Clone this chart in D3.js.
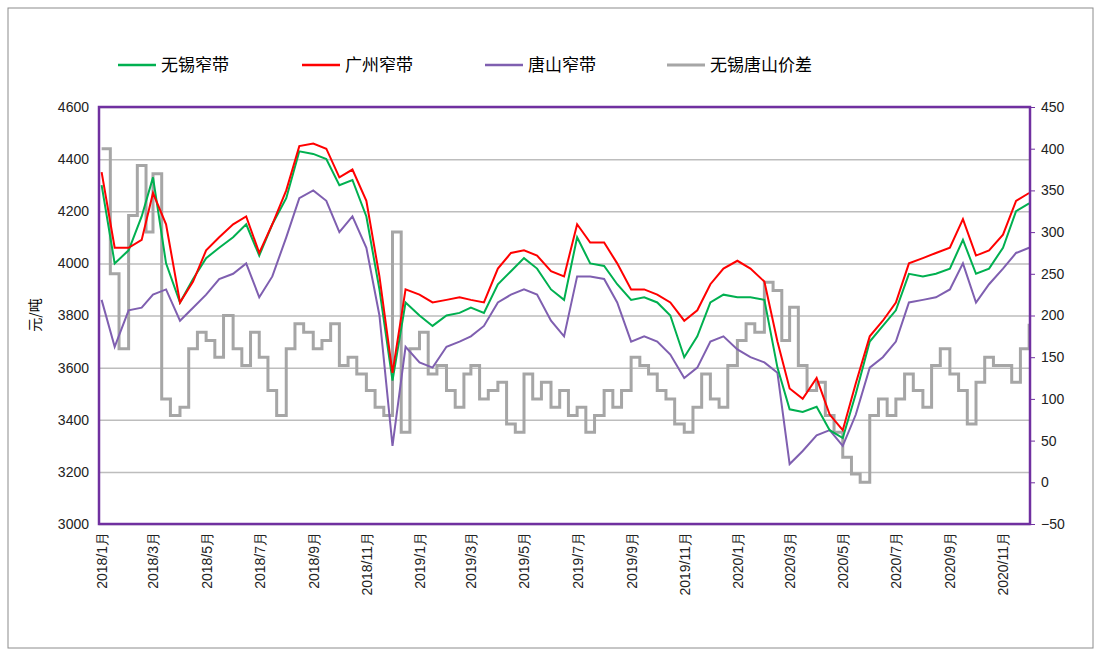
<!DOCTYPE html>
<html>
<head>
<meta charset="utf-8">
<script src="https://cdn.jsdelivr.net/npm/d3@7"></script>
<style>
  body { margin: 0; background: #fff; font-family: "Microsoft YaHei", "Noto Sans CJK SC", sans-serif; }
  .grid line { stroke: #bdbdbd; stroke-width: 1.5; }
  .axis text { font-size: 14px; fill: #222; }
</style>
</head>
<body>
<div id="chart"></div>
<script>
// Semi-monthly dates (1st and 16th) for the three price series
var monthKeys = [];
for (var y = 2018; y <= 2020; y++) for (var m = 1; m <= 12; m++) monthKeys.push([y, m]);
var halfDates = [];
monthKeys.forEach(function(k) { halfDates.push(new Date(k[0], k[1] - 1, 1)); halfDates.push(new Date(k[0], k[1] - 1, 16)); });
halfDates = halfDates.slice(0, 71);

var wuxi = [4300,4000,4050,4180,4330,4000,3850,3940,4020,4060,4100,4150,4030,4150,4250,4430,4420,4400,4300,4320,4180,3900,3550,3850,
  3800,3760,3800,3810,3830,3810,3920,3970,4020,3980,3900,3860,4100,4000,3990,3920,3860,3870,3850,3800,3640,3720,3850,3880,
  3870,3870,3860,3600,3440,3430,3450,3360,3330,3500,3700,3760,3820,3960,3950,3960,3980,4090,3960,3980,4060,4200,4230];
var guangzhou = [4350,4060,4060,4090,4270,4150,3850,3930,4050,4100,4150,4180,4040,4150,4280,4450,4460,4440,4330,4360,4240,3950,3580,3900,
  3880,3850,3860,3870,3860,3850,3980,4040,4050,4030,3970,3950,4150,4080,4080,4000,3900,3900,3880,3850,3780,3820,3920,3980,
  4010,3980,3930,3700,3520,3480,3560,3420,3360,3540,3720,3780,3850,4000,4020,4040,4060,4170,4030,4050,4110,4240,4270];
var tangshan = [3860,3680,3820,3830,3880,3900,3780,3830,3880,3940,3960,4000,3870,3950,4100,4250,4280,4240,4120,4180,4060,3800,3300,3680,
  3620,3600,3680,3700,3720,3760,3850,3880,3900,3880,3780,3720,3950,3950,3940,3850,3700,3720,3700,3650,3560,3600,3700,3720,
  3670,3640,3620,3580,3230,3280,3340,3360,3300,3420,3600,3640,3700,3850,3860,3870,3900,4000,3850,3920,3980,4040,4060];

// Spread series, three points per month (1st, 11th, 21st)
var spreadDates = [];
monthKeys.forEach(function(k) { [1, 11, 21].forEach(function(d) { spreadDates.push(new Date(k[0], k[1] - 1, d)); }); });
spreadDates = spreadDates.slice(0, 106);
var spread = [400,250,160, 320,380,300, 370,100,80, 90,160,180, 170,150,200, 160,140,180, 150,110,80, 160,190,180, 160,170,190, 140,150,130, 110,90,80, 300,60,160,
  180,130,140, 110,90,130, 140,100,110, 120,70,60, 130,100,120, 90,110,80, 90,60,80, 110,90,110, 150,140,130, 110,100,70, 60,90,130, 100,90,140,
  170,190,180, 240,230,170, 210,140,110, 120,80,60, 30,10,0, 80,100,80, 100,130,110, 90,140,160, 130,110,70, 120,150,140, 140,120,160, 190];

var leftTicks = [3000,3200,3400,3600,3800,4000,4200,4400,4600];
var rightTicks = [-50,0,50,100,150,200,250,300,350,400,450];
var seriesNames = ["无锡窄带", "广州窄带", "唐山窄带", "无锡唐山价差"];
var seriesColors = ["#00b050", "#ff0000", "#7f5fb0", "#a6a6a6"];

var svgWidth = 1099, svgHeight = 650;
var margin = { top: 107, right: 69, bottom: 126, left: 99 };
var chartWidth = svgWidth - margin.left - margin.right;
var chartHeight = svgHeight - margin.top - margin.bottom;

var svg = d3.select("#chart").append("svg").attr("width", svgWidth).attr("height", svgHeight);

// page frame
svg.append("rect").attr("x", 8).attr("y", 8).attr("width", 1085).attr("height", 640)
  .attr("fill", "none").attr("stroke", "#8c8c8c").attr("stroke-width", 1);

var g = svg.append("g").attr("transform", `translate(${margin.left}, ${margin.top})`);

var x = d3.scaleTime().domain([new Date(2017, 11, 29), new Date(2020, 11, 2)]).range([0, chartWidth]);
var yL = d3.scaleLinear().domain([3000, 4600]).range([chartHeight, 0]);
var yR = d3.scaleLinear().domain([-50, 450]).range([chartHeight, 0]);

// gridlines
g.append("g").attr("class", "grid")
  .call(d3.axisLeft(yL).tickValues(leftTicks).tickSize(-chartWidth).tickFormat(""))
  .call(s => s.select(".domain").remove());

// lines
function addLine(dates, vals, scale, color, width, curve) {
  var line = d3.line().x((d, i) => x(dates[i])).y(d => scale(d)).curve(curve);
  g.append("path").datum(vals).attr("fill", "none").attr("stroke", color)
    .attr("stroke-width", width).attr("d", line);
}
addLine(spreadDates, spread, yR, seriesColors[3], 3, d3.curveStepAfter);
addLine(halfDates, tangshan, yL, seriesColors[2], 2, d3.curveLinear);
addLine(halfDates, wuxi, yL, seriesColors[0], 2, d3.curveLinear);
addLine(halfDates, guangzhou, yL, seriesColors[1], 2, d3.curveLinear);

// frame
g.append("rect").attr("width", chartWidth).attr("height", chartHeight)
  .attr("fill", "none").attr("stroke", "#7030a0").attr("stroke-width", 2.5);

// axes
g.append("g").attr("class", "axis")
  .call(d3.axisLeft(yL).tickValues(leftTicks).tickSize(0).tickPadding(10).tickFormat(d3.format("d")))
  .call(s => s.select(".domain").remove());
g.append("g").attr("class", "axis").attr("transform", `translate(${chartWidth},0)`)
  .call(d3.axisRight(yR).tickValues(rightTicks).tickSize(5).tickPadding(6).tickFormat(d3.format("d")))
  .call(s => s.select(".domain").remove())
  .call(s => s.selectAll("line").attr("stroke", "#7030a0"));

var xTicks = d3.range(0, 35, 2).map(i => new Date(2018, i, 1));
g.append("g").attr("class", "axis").attr("transform", `translate(0,${chartHeight})`)
  .call(d3.axisBottom(x).tickValues(xTicks).tickSize(0).tickFormat(d => d.getFullYear() + "/" + (d.getMonth() + 1) + "月"))
  .call(s => s.select(".domain").remove())
  .selectAll("text")
  .attr("transform", "rotate(-90)").attr("text-anchor", "end")
  .attr("x", -8).attr("y", 0).attr("dy", "0.35em");

// y label
svg.append("text").attr("transform", "translate(40,315) rotate(-90)")
  .attr("text-anchor", "middle").attr("font-size", 14).text("元/吨");

// legend
var legendX = [118, 302, 485, 667];
var legend = svg.append("g");
seriesNames.forEach(function(n, i) {
  legend.append("line").attr("x1", legendX[i]).attr("x2", legendX[i] + 38)
    .attr("y1", 65).attr("y2", 65).attr("stroke", seriesColors[i]).attr("stroke-width", i === 3 ? 3 : 2.5);
  legend.append("text").attr("x", legendX[i] + 43).attr("y", 71).attr("font-size", 17).text(n);
});
</script>
</body>
</html>
